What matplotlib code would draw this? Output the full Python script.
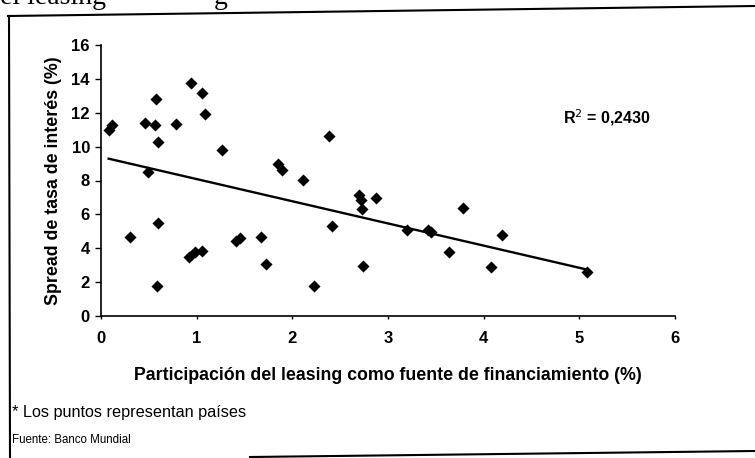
import numpy as np
import matplotlib
matplotlib.use("Agg")
import matplotlib.pyplot as plt
from matplotlib.lines import Line2D

plt.rcParams['font.family'] = ['Liberation Sans', 'DejaVu Sans']

# Data
participacion = [0.08, 0.11, 0.30, 0.46, 0.49, 0.56, 0.58, 0.60, 0.60, 0.585,
                 0.78, 0.94, 0.92, 0.98, 1.06, 1.06, 1.09, 1.26, 1.41, 1.45,
                 1.67, 1.72, 1.85, 1.89, 2.11, 2.23, 2.38, 2.41, 2.70, 2.72,
                 2.73, 2.74, 2.87, 3.20, 3.42, 3.45, 3.64, 3.78, 4.08, 4.19, 5.08]
spread = [11.0, 11.3, 4.65, 11.4, 8.5, 11.3, 12.8, 10.3, 5.5, 1.75,
          11.35, 13.75, 3.5, 3.75, 3.85, 13.15, 11.95, 9.8, 4.45, 4.6,
          4.65, 3.05, 9.0, 8.6, 8.05, 1.75, 10.6, 5.3, 7.15, 6.85,
          6.3, 2.95, 6.95, 5.1, 5.05, 4.98, 3.8, 6.35, 2.87, 4.8, 2.58]
x_ticks = [0, 1, 2, 3, 4, 5, 6]
y_ticks = [0, 2, 4, 6, 8, 10, 12, 14, 16]
r2_text = "R$^2$ = 0,2430"

fig = plt.figure(figsize=(7.55, 4.58), dpi=100)
ax = fig.add_axes([101/755, 1-316/458, (675-101)/755, (316-45)/458])

ax.scatter(participacion, spread, marker='D', s=38, color='black', zorder=3, linewidths=0)
coef = np.polyfit(participacion, spread, 1)
xs = np.array([min(participacion), max(participacion)])
ax.plot(xs, np.polyval(coef, xs), color='black', lw=1.7, zorder=2)

ax.set_xlim(0, 6)
ax.set_ylim(0, 16)
ax.set_xticks(x_ticks)
ax.set_yticks(y_ticks)
for s in ['top', 'right']:
    ax.spines[s].set_visible(False)
for s in ['left', 'bottom']:
    ax.spines[s].set_linewidth(1.2)
ax.tick_params(axis='y', direction='out', length=4, width=1, pad=4, labelsize=12)
ax.tick_params(axis='x', direction='out', length=2, width=1, pad=9, labelsize=12)
for lab in ax.get_xticklabels() + ax.get_yticklabels():
    lab.set_fontweight('bold')

ax.set_xlabel("Participación del leasing como fuente de financiamiento (%)",
              fontsize=12.8, fontweight='bold', labelpad=15)
ax.set_ylabel("Spread de tasa de interés (%)", fontsize=12.8, fontweight='bold', labelpad=7)

ax.text(563/755, 1-118/458, r2_text, transform=fig.transFigure, fontsize=11.5,
        fontweight='bold', va='center', ha='left')

fig.text(12/755, 1-412/458, "* Los puntos representan países", fontsize=11.7, va='center', ha='left')
fig.text(12/755, 1-440/458, "Fuente: Banco Mundial", fontsize=8.3, va='center', ha='left')

# scanned frame around the chart
fig.add_artist(Line2D([8/755, 1.0], [1-16/458, 1-6/458], transform=fig.transFigure, color='black', lw=1.5))
fig.add_artist(Line2D([9/755, 10/755], [1-16/458, 0.0], transform=fig.transFigure, color='black', lw=1.5))
fig.add_artist(Line2D([250/755, 1.0], [1-457/458, 1-451/458], transform=fig.transFigure, color='black', lw=1.5))

# cropped heading from the page above
fig.text(0.0, 1-4/458, "el leasing", fontsize=20, family='Liberation Serif', va='baseline', ha='left')
fig.text(214/755, 1-4/458, "g", fontsize=20, family='Liberation Serif', va='baseline', ha='left')

fig.savefig("out.png", dpi=100, facecolor='white')
